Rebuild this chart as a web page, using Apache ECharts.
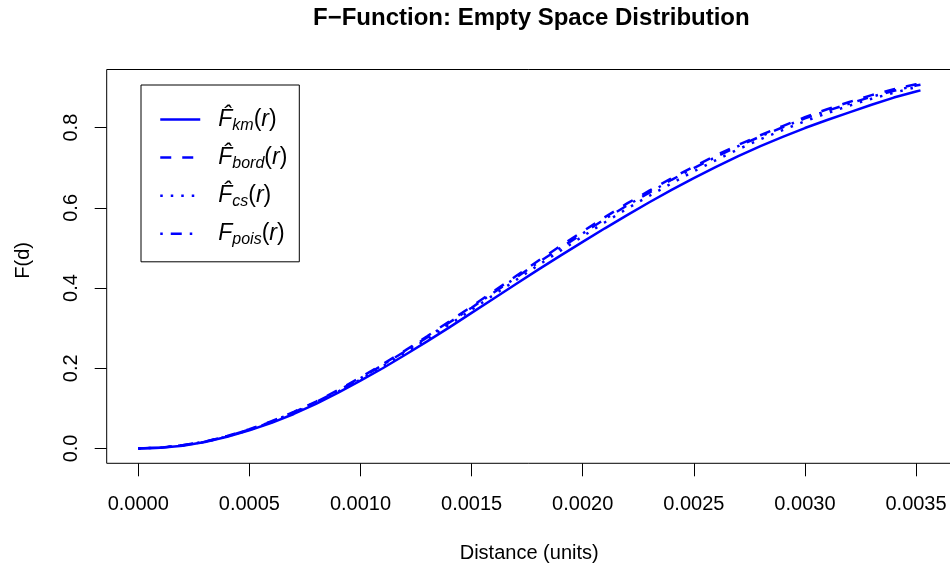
<!DOCTYPE html>
<html>
<head>
<meta charset="utf-8">
<script src="https://cdn.jsdelivr.net/npm/echarts@6/dist/echarts.min.js"></script>
<style>
  body { margin: 0; background: #fff; }
  #chart { width: 950px; height: 564px; }
</style>
</head>
<body>
<div id="chart"></div>
<script>
// distance r (units)
var distances = [0, 0.0001, 0.0002, 0.0003, 0.0004, 0.0005, 0.0006, 0.0007, 0.0008, 0.0009,
  0.0010, 0.0011, 0.0012, 0.0013, 0.0014, 0.0015, 0.0016, 0.0017, 0.0018, 0.0019,
  0.0020, 0.0021, 0.0022, 0.0023, 0.0024, 0.0025, 0.0026, 0.0027, 0.0028, 0.0029,
  0.0030, 0.0031, 0.0032, 0.0033, 0.0034, 0.0035, 0.00352];

// F estimates
var fKm = [0, 0.002, 0.007, 0.016, 0.029, 0.045, 0.064, 0.086, 0.111, 0.139,
  0.169, 0.200, 0.233, 0.267, 0.302, 0.338, 0.374, 0.410, 0.446, 0.481,
  0.515, 0.549, 0.582, 0.614, 0.645, 0.674, 0.702, 0.729, 0.754, 0.777,
  0.799, 0.819, 0.838, 0.857, 0.875, 0.890, 0.893];
var fBord = [0, 0.002, 0.008, 0.017, 0.031, 0.048, 0.068, 0.091, 0.117, 0.146,
  0.177, 0.210, 0.244, 0.280, 0.317, 0.354, 0.392, 0.430, 0.468, 0.505,
  0.541, 0.577, 0.611, 0.643, 0.674, 0.703, 0.731, 0.757, 0.781, 0.804,
  0.826, 0.846, 0.864, 0.881, 0.896, 0.908, 0.910];
var fCs = [0, 0.002, 0.008, 0.016, 0.030, 0.046, 0.066, 0.088, 0.114, 0.142,
  0.172, 0.205, 0.238, 0.273, 0.309, 0.346, 0.383, 0.420, 0.457, 0.493,
  0.529, 0.564, 0.598, 0.630, 0.661, 0.691, 0.719, 0.746, 0.771, 0.794,
  0.816, 0.836, 0.855, 0.872, 0.887, 0.901, 0.903];
var fPois = [0, 0.002, 0.008, 0.017, 0.030, 0.047, 0.067, 0.090, 0.116, 0.144,
  0.175, 0.208, 0.242, 0.277, 0.314, 0.351, 0.389, 0.426, 0.464, 0.500,
  0.536, 0.572, 0.606, 0.638, 0.670, 0.699, 0.727, 0.754, 0.778, 0.801,
  0.823, 0.842, 0.860, 0.877, 0.892, 0.905, 0.907];

var xTicks = [0, 0.0005, 0.0010, 0.0015, 0.0020, 0.0025, 0.0030, 0.0035];
var yTicks = [0, 0.2, 0.4, 0.6, 0.8];

var seriesNames = ['km', 'bord', 'cs', 'pois'];
var legendText = {
  km: '{g|}{F|F\u0302}{s|km}{p|(}{r|r}{p|)}',
  bord: '{g|}{F|F\u0302}{s|bord}{p|(}{r|r}{p|)}',
  cs: '{g|}{F|F\u0302}{s|cs}{p|(}{r|r}{p|)}',
  pois: '{g|}{F|F}{s|pois}{p|(}{r|r}{p|)}'
};

var font = 'Liberation Sans, Arial, Helvetica, sans-serif';
var blue = '#0000ff';
var dashes = {
  km: 'solid',
  bord: [11, 11],
  cs: [2.5, 8],
  pois: [2.5, 8, 11, 8]
};

function pairs(ys) {
  return distances.map(function (d, i) { return [d, ys[i]]; });
}
var values = { km: fKm, bord: fBord, cs: fCs, pois: fPois };

const myChart = echarts.init(document.getElementById('chart'), null, { renderer: 'canvas' });

var option = {
  animation: false,
  backgroundColor: '#fff',
  textStyle: { fontFamily: font },
  title: {
    text: 'F\u2212Function: Empty Space Distribution',
    left: 313,
    top: 6,
    padding: 0,
    textStyle: { fontFamily: font, fontSize: 24, fontWeight: 'bold', color: '#000' }
  },
  grid: {
    left: 106.7,
    top: 69.5,
    width: 852,
    height: 393.8,
    outerBoundsMode: 'none',
    containLabel: false,
    show: true,
    borderColor: '#000',
    borderWidth: 1,
    backgroundColor: 'transparent'
  },
  legend: {
    left: 141,
    top: 85,
    orient: 'vertical',
    padding: [23, 12, 14, 18],
    itemGap: 12.6,
    itemWidth: 40,
    itemHeight: 14,
    borderColor: '#000',
    borderWidth: 1,
    backgroundColor: '#fff',
    selectedMode: false,
    itemStyle: { opacity: 0 },
    data: seriesNames.map(function (n) {
      return { name: n, lineStyle: { color: blue, width: 2.5, type: dashes[n] } };
    }),
    formatter: function (name) { return legendText[name]; },
    textStyle: {
      color: '#000',
      fontFamily: font,
      rich: {
        g: { width: 13 },
        F: { fontSize: 23, fontStyle: 'italic', lineHeight: 28, fontFamily: font, color: '#000' },
        s: { fontSize: 16, fontStyle: 'italic', lineHeight: 12, verticalAlign: 'bottom', fontFamily: font, color: '#000' },
        p: { fontSize: 23, lineHeight: 28, fontFamily: font, color: '#000' },
        r: { fontSize: 23, fontStyle: 'italic', lineHeight: 28, fontFamily: font, color: '#000' }
      }
    }
  },
  xAxis: {
    type: 'value',
    min: -0.000142,
    max: 0.003692,
    name: 'Distance (units)',
    nameLocation: 'middle',
    nameGap: 80,
    nameTextStyle: { fontFamily: font, fontSize: 20, color: '#000', padding: [0, 7, 0, 0] },
    axisLine: { show: false, onZero: false },
    splitLine: { show: false },
    axisTick: {
      show: true,
      inside: false,
      customValues: xTicks,
      length: 13,
      lineStyle: { color: '#000', width: 1 }
    },
    axisLabel: {
      customValues: xTicks,
      margin: 31,
      fontSize: 20,
      fontFamily: font,
      color: '#000',
      formatter: function (v) { return v.toFixed(4); }
    }
  },
  yAxis: {
    type: 'value',
    min: -0.037,
    max: 0.945,
    name: 'F(d)',
    nameLocation: 'middle',
    nameGap: 73,
    nameRotate: 90,
    nameTextStyle: { fontFamily: font, fontSize: 20, color: '#000', padding: [0, 0, 0, 12] },
    axisLine: { show: false, onZero: false },
    splitLine: { show: false },
    axisTick: {
      show: true,
      inside: false,
      customValues: yTicks,
      length: 12,
      lineStyle: { color: '#000', width: 1 }
    },
    axisLabel: {
      customValues: yTicks,
      rotate: 90,
      margin: 25,
      fontSize: 20,
      fontFamily: font,
      color: '#000',
      formatter: function (v) { return v.toFixed(1); }
    }
  },
  series: seriesNames.map(function (n) {
    return {
      name: n,
      type: 'line',
      data: pairs(values[n]),
      showSymbol: false,
      symbol: 'none',
      clip: false,
      color: blue,
      lineStyle: { color: blue, width: 2.5, type: dashes[n] }
    };
  })
};

myChart.setOption(option);
</script>
</body>
</html>
